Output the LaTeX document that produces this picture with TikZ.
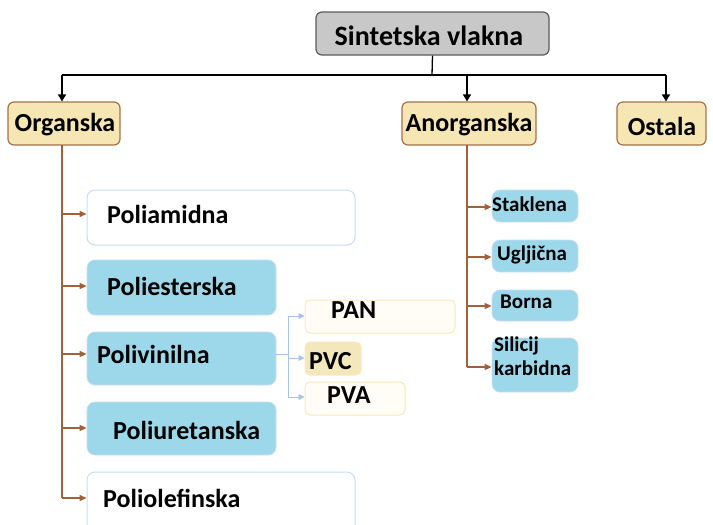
\documentclass[tikz,border=0pt]{standalone}
\usepackage{fontspec}
\setmainfont{Carlito}
\usetikzlibrary{arrows.meta}
\definecolor{topfill}{HTML}{C8C8C8}
\definecolor{topdraw}{HTML}{5A5A5A}
\definecolor{catfill}{HTML}{F5E6B3}
\definecolor{catdraw}{HTML}{A8704A}
\definecolor{brownln}{HTML}{A0603A}
\definecolor{bluefill}{HTML}{9DD8EA}
\definecolor{bluedraw}{HTML}{C8DCF4}
\definecolor{creamdraw}{HTML}{FCE9B8}
\definecolor{creamfill}{HTML}{FFFDF6}
\definecolor{pvcfill}{HTML}{F3E7BC}
\definecolor{subln}{HTML}{A9C4EA}
\tikzset{
  topbox/.style={draw=topdraw, fill=topfill, line width=1.2pt, rounded corners=6pt},
  catbox/.style={draw=catdraw, fill=catfill, line width=1.2pt, rounded corners=6pt},
  whitebox/.style={draw=bluedraw, fill=white, line width=1pt, rounded corners=8pt},
  bluebox/.style={draw=bluedraw, fill=bluefill, line width=0.8pt, rounded corners=8pt},
  creambox/.style={draw=creamdraw, fill=creamfill, line width=1pt, rounded corners=5pt},
  pvcbox/.style={draw=creamdraw, fill=pvcfill, line width=1pt, rounded corners=5pt},
  lbl/.style={inner sep=0pt, anchor=west},
  bigf/.style={font=\bfseries\fontsize{26}{28}\selectfont},
  midf/.style={font=\bfseries\fontsize{26}{28}\selectfont},
  smf/.style={font=\bfseries\fontsize{21}{24}\selectfont},
  blackarr/.style={draw=black, line width=1.3pt, -{Triangle[length=7pt,width=8pt]}},
  blackln/.style={draw=black, line width=1.3pt},
  brownarr/.style={draw=brownln, line width=1.5pt, -{Triangle[length=7pt,width=6pt]}},
  brownln/.style={draw=brownln, line width=1.5pt},
  bluearr/.style={draw=subln, line width=0.9pt, -{Triangle[length=6pt,width=6pt]}},
  blueln/.style={draw=subln, line width=0.9pt},
}
\begin{document}
\begin{tikzpicture}[x=1pt,y=-1pt]
\useasboundingbox (0,0) rectangle (713,525);
\clip (0,0) rectangle (713,525);
% boxes
\node[topbox, minimum width=233pt, minimum height=43pt] (top) at (432.5,33.5) {};
\node[font=\bfseries\fontsize{28}{30}\selectfont, inner sep=0pt] (toptxt) at (429,36) {Sintetska vlakna};
\node[catbox, minimum width=112pt, minimum height=43pt] (org) at (64,123.5) {};
\node[catbox, minimum width=134pt, minimum height=43pt] (anorg) at (469,123.5) {};
\node[catbox, minimum width=89pt, minimum height=43pt] (ost) at (661.5,123.5) {};
\node[bigf, inner sep=0pt] (orgtxt) at (65,125) {Organska};
\node[bigf, inner sep=0pt] (anorgtxt) at (469,125) {Anorganska};
\node[bigf, inner sep=0pt] (osttxt) at (662,126) {Ostala};
% organska children
\node[whitebox, minimum width=268pt, minimum height=55pt] (pa) at (221,217.5) {};
\node[bluebox, minimum width=189pt, minimum height=55pt] (pe) at (181.5,287.5) {};
\node[bluebox, minimum width=189pt, minimum height=53pt] (pv) at (181.5,358.5) {};
\node[bluebox, minimum width=189pt, minimum height=53pt] (pu) at (181.5,428.5) {};
\node[whitebox, minimum width=268pt, minimum height=70pt] (po) at (221,507) {};
\node[lbl, midf] (patxt) at (107,214) {Poliamidna};
\node[lbl, midf] (petxt) at (107,286) {Poliesterska};
\node[lbl, midf] (pvtxt) at (97,354) {Polivinilna};
\node[lbl, midf] (putxt) at (113,430) {Poliuretanska};
\node[lbl, midf] (potxt) at (103,498) {Poliolefinska};
% polivinilna children
\node[creambox, minimum width=150pt, minimum height=33pt] (pan) at (380,316.5) {};
\node[pvcbox, minimum width=56pt, minimum height=33pt] (pvc) at (333,358.5) {};
\node[creambox, minimum width=100pt, minimum height=33pt] (pva) at (355,398.5) {};
\node[lbl, midf] (pantxt) at (331,310) {PAN};
\node[lbl, midf] (pvctxt) at (309,361) {PVC};
\node[lbl, midf] (pvatxt) at (327,395) {PVA};
% anorganska children
\node[bluebox, minimum width=86pt, minimum height=32pt] (st) at (535,206) {};
\node[bluebox, minimum width=86pt, minimum height=32pt] (ug) at (535,256) {};
\node[bluebox, minimum width=86pt, minimum height=31pt] (bo) at (535,305.5) {};
\node[bluebox, minimum width=86pt, minimum height=54pt] (si) at (535,365) {};
\node[lbl, smf] (sttxt) at (492,204) {Staklena};
\node[lbl, smf] (ugtxt) at (497,255) {Ugljična};
\node[lbl, smf] (botxt) at (500,302) {Borna};
\node[lbl, smf, align=left] (sitxt) at (494,356) {Silicij\\karbidna};
% coordinates
\coordinate (hub) at (432,75);
\coordinate (hl) at (62,75);
\coordinate (hr) at (666,75);
\coordinate (ha) at (467,75);
% top connectors
\draw[blackln] (top.south) -- (hub);
\draw[blackln] (hl) -- (hr);
\draw[blackarr] (hl) -- (org.north -| hl);
\draw[blackarr] (ha) -- (anorg.north -| ha);
\draw[blackarr] (hr) -- (ost.north -| hr);
% organska trunk
\coordinate (ot) at (62,145);
\coordinate (ob) at (62,498);
\draw[brownln] (ot) -- (ob);
\draw[brownarr] (62,214) -- (pa.west |- 0,214);
\draw[brownarr] (62,286) -- (pe.west |- 0,286);
\draw[brownarr] (62,354) -- (pv.west |- 0,354);
\draw[brownarr] (62,428) -- (pu.west |- 0,428);
\draw[brownarr] (ob) -- (po.west |- ob);
% polivinilna subtree
\coordinate (pvj) at (288,354);
\draw[blueln] (pv.east |- pvj) -- (pvj);
\draw[blueln] (288,316) -- (288,397);
\draw[bluearr] (288,316) -- (pan.west |- 0,316);
\draw[bluearr] (288,358) -- (pvc.west |- 0,358);
\draw[bluearr] (288,397) -- (pva.west |- 0,397);
% anorganska trunk
\coordinate (at) at (467,145);
\coordinate (ab) at (467,367);
\draw[brownln] (at) -- (ab);
\draw[brownarr] (467,207) -- (st.west |- 0,207);
\draw[brownarr] (467,257) -- (ug.west |- 0,257);
\draw[brownarr] (467,306) -- (bo.west |- 0,306);
\draw[brownarr] (ab) -- (si.west |- ab);
\end{tikzpicture}
\end{document}
